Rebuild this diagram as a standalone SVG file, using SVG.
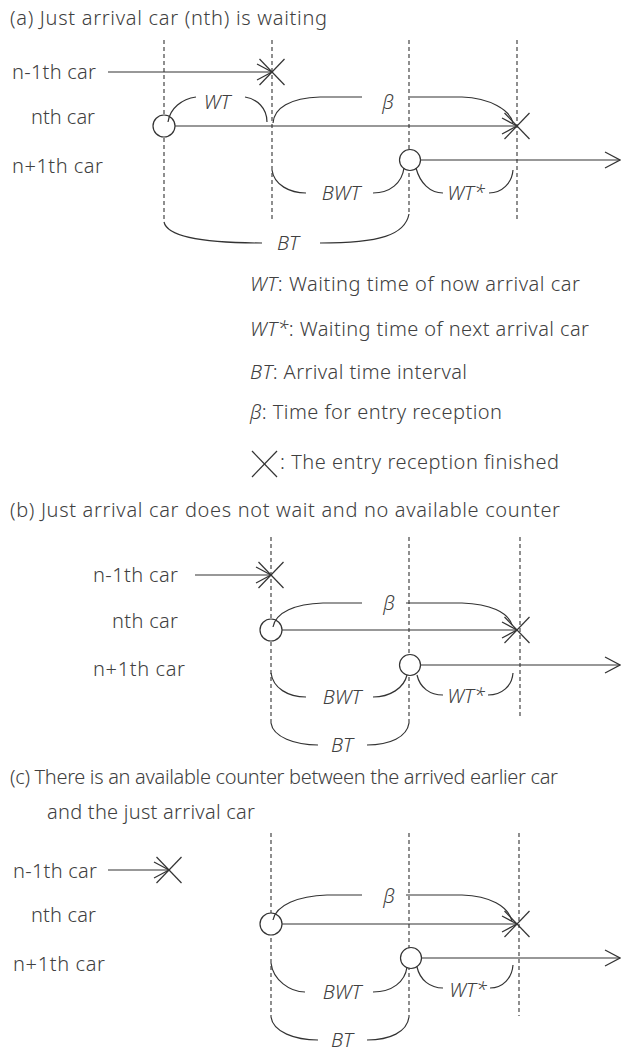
<svg xmlns="http://www.w3.org/2000/svg" xmlns:xlink="http://www.w3.org/1999/xlink" width="621" height="1052" viewBox="0 0 621 1052">
<style>
text{font-family:"Noto Sans","Open Sans","Liberation Sans",sans-serif;font-size:20px;fill:#404040;font-weight:300}
.it{font-style:italic}
.mid{text-anchor:middle}
.ln{stroke:#333;stroke-width:1.2;fill:none}
.dash{stroke:#333;stroke-width:1.1;stroke-dasharray:4 3;fill:none}
.circ{stroke:#333;stroke-width:1.2;fill:#fff}
</style>
<defs>
<marker id="arr" markerUnits="userSpaceOnUse" markerWidth="18" markerHeight="20" viewBox="0 0 18 20" refX="16" refY="10" orient="auto"><path d="M1,2 L16,10 L1,18" fill="none" stroke="#333" stroke-width="1.2"/></marker>
<g id="xm" class="ln"><line x1="-12.5" y1="-13" x2="12.5" y2="13"/><line x1="-12.5" y1="13" x2="12.5" y2="-13"/></g>
</defs>
<rect width="621" height="1052" fill="#fff"/>

<!-- ===== (a) ===== -->
<g id="a-title"><text x="10" y="25" textLength="317" lengthAdjust="spacing">(a)  Just arrival car (nth) is waiting</text></g>
<g id="a-labels">
<text x="12" y="79" textLength="84" lengthAdjust="spacing">n-1th car</text>
<text x="31" y="124" textLength="64" lengthAdjust="spacing">nth car</text>
<text x="12" y="173" textLength="91" lengthAdjust="spacing">n+1th car</text>
</g>
<g id="a-grid">
<line class="dash" x1="164" y1="40" x2="164" y2="222"/>
<line class="dash" x1="272" y1="40" x2="272" y2="222"/>
<line class="dash" x1="409" y1="40" x2="409" y2="214"/>
<line class="dash" x1="517" y1="40" x2="517" y2="222"/>
</g>
<g id="a-connectors">
<line class="ln" x1="108" y1="72" x2="272" y2="72" marker-end="url(#arr)"/>
<line class="ln" x1="175" y1="126" x2="517" y2="126" marker-end="url(#arr)"/>
<line class="ln" x1="420" y1="160" x2="620" y2="160" marker-end="url(#arr)"/>
</g>
<g id="a-nodes">
<use xlink:href="#xm" href="#xm" x="272" y="72"/>
<use xlink:href="#xm" href="#xm" x="517" y="126"/>
<circle class="circ" cx="164" cy="126" r="11"/>
<circle class="circ" cx="410" cy="160" r="10.5"/>
</g>
<g id="a-brackets">
<path class="ln" d="M168,122 C170,108 182,99 196,97"/>
<path class="ln" d="M245,97 C257,99 267,108 267,122"/>
<text class="it mid" x="217" y="109">WT</text>
<path class="ln" d="M273,123 C274,108 290,98 320,97 L362,97"/>
<path class="ln" d="M410,97 L462,97 C490,98 510,110 513,123"/>
<text class="it mid" x="388" y="109">β</text>
<path class="ln" d="M272,170 C274,185 290,193 306,193"/>
<path class="ln" d="M373,193 C390,193 402,183 404,168"/>
<text class="it mid" x="341" y="200">BWT</text>
<path class="ln" d="M416,168 C420,183 430,193 443,193"/>
<path class="ln" d="M489,193 C502,193 512,183 513,170"/>
<text class="it mid" x="466" y="200">WT*</text>
<path class="ln" d="M164,222 C167,236 200,243 262,243"/>
<path class="ln" d="M320,243 C380,243 405,235 409,214"/>
<text class="it mid" x="288" y="250">BT</text>
</g>
<g id="legend">
<text x="250" y="291" textLength="330" lengthAdjust="spacing"><tspan class="it">WT</tspan>: Waiting time of now arrival car</text>
<text x="250" y="336" textLength="339" lengthAdjust="spacing"><tspan class="it">WT*</tspan>: Waiting time of next arrival car</text>
<text x="250" y="379" textLength="217" lengthAdjust="spacing"><tspan class="it">BT</tspan>: Arrival time interval</text>
<text x="250" y="419" textLength="252" lengthAdjust="spacing"><tspan class="it">β</tspan>: Time for entry reception</text>
<use xlink:href="#xm" href="#xm" x="264.5" y="464"/>
<text x="280" y="469" textLength="279" lengthAdjust="spacing">: The entry reception finished</text>
</g>

<!-- ===== (b) ===== -->
<g id="b-title"><text x="10" y="517" textLength="550" lengthAdjust="spacing">(b)  Just arrival car does not wait and no available counter</text></g>
<g id="b-labels">
<text x="93" y="582" textLength="85" lengthAdjust="spacing">n-1th car</text>
<text x="112" y="628" textLength="66" lengthAdjust="spacing">nth car</text>
<text x="93" y="676" textLength="92" lengthAdjust="spacing">n+1th car</text>
</g>
<g id="b-grid">
<line class="dash" x1="271" y1="537" x2="271" y2="723"/>
<line class="dash" x1="409" y1="537" x2="409" y2="723"/>
<line class="dash" x1="520" y1="537" x2="520" y2="718"/>
</g>
<g id="b-connectors">
<line class="ln" x1="195" y1="575" x2="271" y2="575" marker-end="url(#arr)"/>
<line class="ln" x1="282" y1="630" x2="517" y2="630" marker-end="url(#arr)"/>
<line class="ln" x1="421" y1="665" x2="620" y2="665" marker-end="url(#arr)"/>
</g>
<g id="b-nodes">
<use xlink:href="#xm" href="#xm" x="271" y="575"/>
<use xlink:href="#xm" href="#xm" x="517" y="630"/>
<circle class="circ" cx="271" cy="630" r="11"/>
<circle class="circ" cx="410" cy="665" r="10.5"/>
</g>
<g id="b-brackets">
<path class="ln" d="M273,627 C276,612 295,604 323,603 L362,603"/>
<path class="ln" d="M406,603 L462,603 C490,604 508,612 512,625"/>
<text class="it mid" x="389" y="610">β</text>
<path class="ln" d="M271,673 C273,688 288,697 306,697"/>
<path class="ln" d="M373,697 C390,697 404,688 407,675"/>
<text class="it mid" x="342" y="704">BWT</text>
<path class="ln" d="M417,675 C420,688 430,695 443,695"/>
<path class="ln" d="M488,695 C502,695 512,686 513,673"/>
<text class="it mid" x="466" y="703">WT*</text>
<path class="ln" d="M271,723 C273,737 295,745 318,745"/>
<path class="ln" d="M367,745 C390,745 407,737 409,723"/>
<text class="it mid" x="342" y="752">BT</text>
</g>

<!-- ===== (c) ===== -->
<g id="c-title">
<text x="10" y="784" textLength="548" lengthAdjust="spacing">(c) There is an available counter between the arrived earlier car</text>
<text x="47" y="819" textLength="208" lengthAdjust="spacing">and the just arrival car</text>
</g>
<g id="c-labels">
<text x="13" y="878" textLength="84" lengthAdjust="spacing">n-1th car</text>
<text x="31" y="922" textLength="65" lengthAdjust="spacing">nth car</text>
<text x="13" y="971" textLength="92" lengthAdjust="spacing">n+1th car</text>
</g>
<g id="c-grid">
<line class="dash" x1="271" y1="833" x2="271" y2="1017"/>
<line class="dash" x1="409" y1="833" x2="409" y2="1017"/>
<line class="dash" x1="519" y1="833" x2="519" y2="1016"/>
</g>
<g id="c-connectors">
<line class="ln" x1="108" y1="870" x2="169" y2="870" marker-end="url(#arr)"/>
<line class="ln" x1="282" y1="924" x2="517" y2="924" marker-end="url(#arr)"/>
<line class="ln" x1="422" y1="958" x2="620" y2="958" marker-end="url(#arr)"/>
</g>
<g id="c-nodes">
<use xlink:href="#xm" href="#xm" x="169" y="870"/>
<use xlink:href="#xm" href="#xm" x="517" y="924"/>
<circle class="circ" cx="271" cy="924" r="11"/>
<circle class="circ" cx="411" cy="958" r="10.5"/>
</g>
<g id="c-brackets">
<path class="ln" d="M273,920 C276,905 298,896 327,895 L362,895"/>
<path class="ln" d="M406,895 L462,895 C490,896 508,906 512,921"/>
<text class="it mid" x="389" y="903">β</text>
<path class="ln" d="M271,963 C273,980 290,992 305,992"/>
<path class="ln" d="M373,992 C392,992 405,982 407,967"/>
<text class="it mid" x="342" y="999">BWT</text>
<path class="ln" d="M417,967 C420,980 430,988 443,988"/>
<path class="ln" d="M490,988 C503,988 512,978 513,965"/>
<text class="it mid" x="468" y="997">WT*</text>
<path class="ln" d="M271,1017 C273,1032 295,1040 318,1040"/>
<path class="ln" d="M367,1040 C390,1040 407,1032 409,1017"/>
<text class="it mid" x="342" y="1047">BT</text>
</g>
</svg>
